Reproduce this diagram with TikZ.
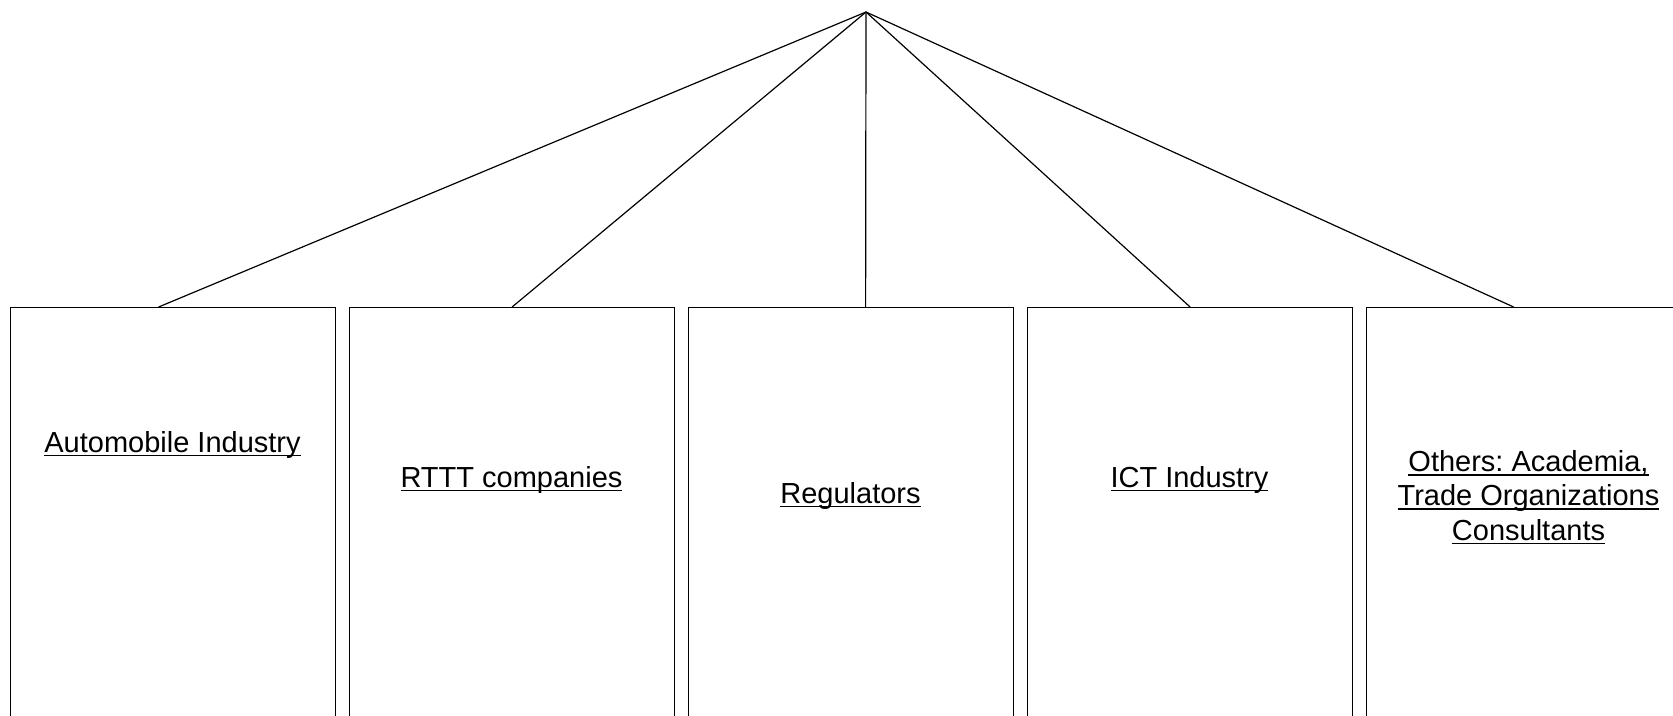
\documentclass[tikz,border=0pt]{standalone}
\usepackage{fontspec}
\setmainfont{Liberation Sans}
\frenchspacing
\newcommand{\undl}[1]{\setbox0\hbox{#1}\rlap{\rule[-4.4pt]{\wd0}{1.8pt}}\box0}
\begin{document}
\begin{tikzpicture}[x=1pt, y=-1pt,
       group/.style={draw, line width=1.2pt, minimum width=325pt,
             minimum height=453pt, inner sep=0pt, anchor=north west},
       label text/.style={anchor=base, align=center, inner sep=0pt,
             font=\fontsize{29}{34.3}\selectfont},
       link/.style={line width=1.2pt}]
\useasboundingbox (0,0) rectangle (1673,715);
\clip (0,0) rectangle (1673,715);
% top point
\coordinate (top) at (866,12);
% the five groups
\node[group] (auto) at (10,307) {};
\node[group] (rttt) at (349,307) {};
\node[group] (reg)  at (688,307) {};
\node[group] (ict)  at (1027,307) {};
\node[group] (oth)  at (1366,307) {};
\node[label text] (autotxt) at (172.5,452) {\undl{Automobile Industry}};
\node[label text] (rttttxt) at (511.5,487) {\undl{RTTT companies}};
\node[label text] (regtxt)  at (850.5,503) {\undl{Regulators}};
\node[label text] (icttxt)  at (1189.5,487) {\undl{ICT Industry}};
\node[label text] (othtxt)  at (1528.5,540) {\undl{Others: Academia,}\\
    \undl{Trade Organizations}\\ \undl{Consultants}};
% links from the top
\draw[link] (top) -- ([xshift=-14.5pt]auto.north);
\draw[link] (top) -- (rttt.north);
\draw[link] (top) -- ([xshift=14.5pt]reg.north);
\draw[link] (top) -- (ict.north);
\draw[link] (top) -- ([xshift=-15.5pt]oth.north);
\end{tikzpicture}
\end{document}
